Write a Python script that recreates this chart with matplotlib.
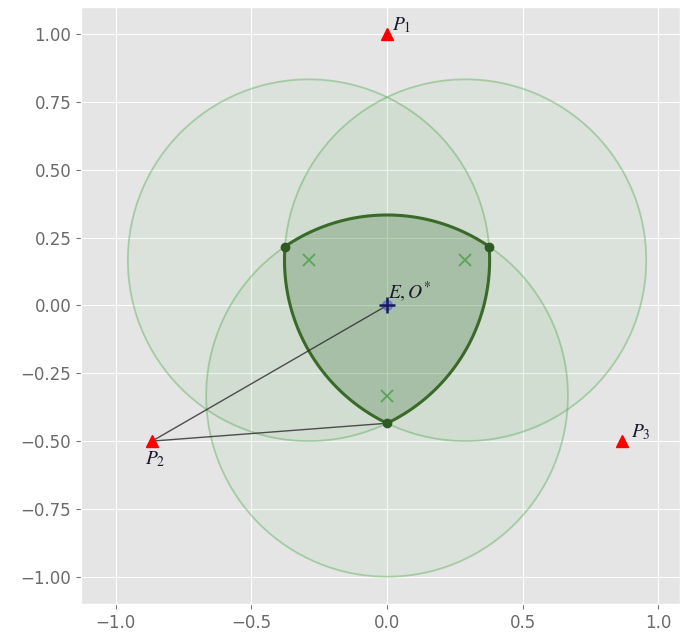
import numpy as np
import matplotlib
matplotlib.use('Agg')
import matplotlib.pyplot as plt
from matplotlib.patches import Circle, Polygon

plt.style.use('ggplot')
plt.rcParams['mathtext.fontset'] = 'stix'

# Data
P_x = [0.0, -0.866, 0.866]
P_y = [1.0, -0.5, -0.5]
P_labels = [r'$P_1$', r'$P_2$', r'$P_3$']
center_x = [-0.2887, 0.2887, 0.0]
center_y = [0.1667, 0.1667, -0.3333]
radius = 0.6667
E_x, E_y = 0.0, 0.0
E_label = r'$E, O^{*}$'
xticks = [-1.0, -0.5, 0.0, 0.5, 1.0]
yticks = [-1.0, -0.75, -0.5, -0.25, 0.0, 0.25, 0.5, 0.75, 1.0]

fig = plt.figure(figsize=(6.81, 6.37), dpi=100)
ax = fig.add_axes([0.118, 0.052, 0.8816, 0.937])

centers = np.column_stack([center_x, center_y])

for c in centers:
    ax.add_patch(Circle(c, radius, facecolor=(0.2, 0.6, 0.2, 0.05),
                        edgecolor=(0.3, 0.65, 0.3, 0.4), linewidth=1.3, zorder=2))

# intersection vertices
def circ_inter(c1, c2, r):
    d = np.linalg.norm(c2 - c1)
    a = d / 2
    h = np.sqrt(r * r - a * a)
    m = (c1 + c2) / 2
    u = (c2 - c1) / d
    perp = np.array([-u[1], u[0]])
    return [m + h * perp, m - h * perp]

n = len(centers)
verts = {}
for i in range(n):
    for j in range(i + 1, n):
        k = [t for t in range(n) if t not in (i, j)][0]
        pts = circ_inter(centers[i], centers[j], radius)
        for p in pts:
            if np.linalg.norm(p - centers[k]) <= radius + 1e-9:
                verts[(i, j)] = p

vert_list = list(verts.items())
boundary = []
def ang(p, c):
    return np.arctan2(p[1] - c[1], p[0] - c[0])

ordered = sorted(vert_list, key=lambda kv: np.arctan2(kv[1][1], kv[1][0]))
for idx in range(len(ordered)):
    (pa, va) = ordered[idx]
    (pb, vb) = ordered[(idx + 1) % len(ordered)]
    common = list(set(pa) & set(pb))[0]
    c = centers[common]
    a1, a2 = ang(va, c), ang(vb, c)
    diff = (a2 - a1 + np.pi) % (2 * np.pi) - np.pi
    t = np.linspace(a1, a1 + diff, 80)
    boundary.append(np.column_stack([c[0] + radius * np.cos(t), c[1] + radius * np.sin(t)]))
boundary = np.vstack(boundary)
ax.add_patch(Polygon(boundary, closed=True, facecolor=(0.1, 0.35, 0.1, 0.2),
                     edgecolor='#3a6a2a', linewidth=2.2, zorder=3))

vx = [v[0] for v in verts.values()]
vy = [v[1] for v in verts.values()]
ax.plot(vx, vy, 'o', color='#2f5a22', markersize=6, zorder=5)

ax.plot(center_x, center_y, 'x', color='#5aa55a', markersize=8, mew=1.3, zorder=4)

bottom_v = min(verts.values(), key=lambda p: p[1])
ax.plot([P_x[1], E_x], [P_y[1], E_y], color='#333333', linewidth=1.0, alpha=0.85, zorder=4)
ax.plot([P_x[1], bottom_v[0]], [P_y[1], bottom_v[1]], color='#333333', linewidth=1.0, alpha=0.85, zorder=4)

ax.plot(P_x, P_y, '^', color='red', markersize=9, zorder=6)
ax.plot([E_x], [E_y], 'o', color='#4455ee', alpha=0.5, markersize=7, zorder=6)
ax.plot([E_x], [E_y], '+', color='#1a1a5a', markersize=12, mew=1.8, zorder=7)

ax.text(P_x[0] + 0.02, P_y[0] - 0.005, P_labels[0], fontsize=14, va='bottom', ha='left', zorder=8, color='#1a1a2a')
ax.text(P_x[1] - 0.025, P_y[1] - 0.03, P_labels[1], fontsize=14, va='top', ha='left', zorder=8, color='#1a1a2a')
ax.text(P_x[2] + 0.035, P_y[2] - 0.005, P_labels[2], fontsize=14, va='bottom', ha='left', zorder=8, color='#1a1a2a')
ax.text(E_x + 0.005, E_y + 0.005, E_label, fontsize=14, va='bottom', ha='left', zorder=8, color='#1a1a2a')

ax.set_xlim(-1.128, 1.08)
ax.set_ylim(-1.1, 1.1)
ax.set_aspect('equal', adjustable='box')
ax.set_xticks(xticks)
ax.set_yticks(yticks)
ax.set_xticklabels(['−1.0', '−0.5', '0.0', '0.5', '1.0'])
ax.set_yticklabels(['−1.00', '−0.75', '−0.50', '−0.25', '0.00', '0.25', '0.50', '0.75', '1.00'])
ax.tick_params(labelsize=12, colors='#777777', labelcolor='#6a6a6a')

fig.savefig('out.png', dpi=100)
